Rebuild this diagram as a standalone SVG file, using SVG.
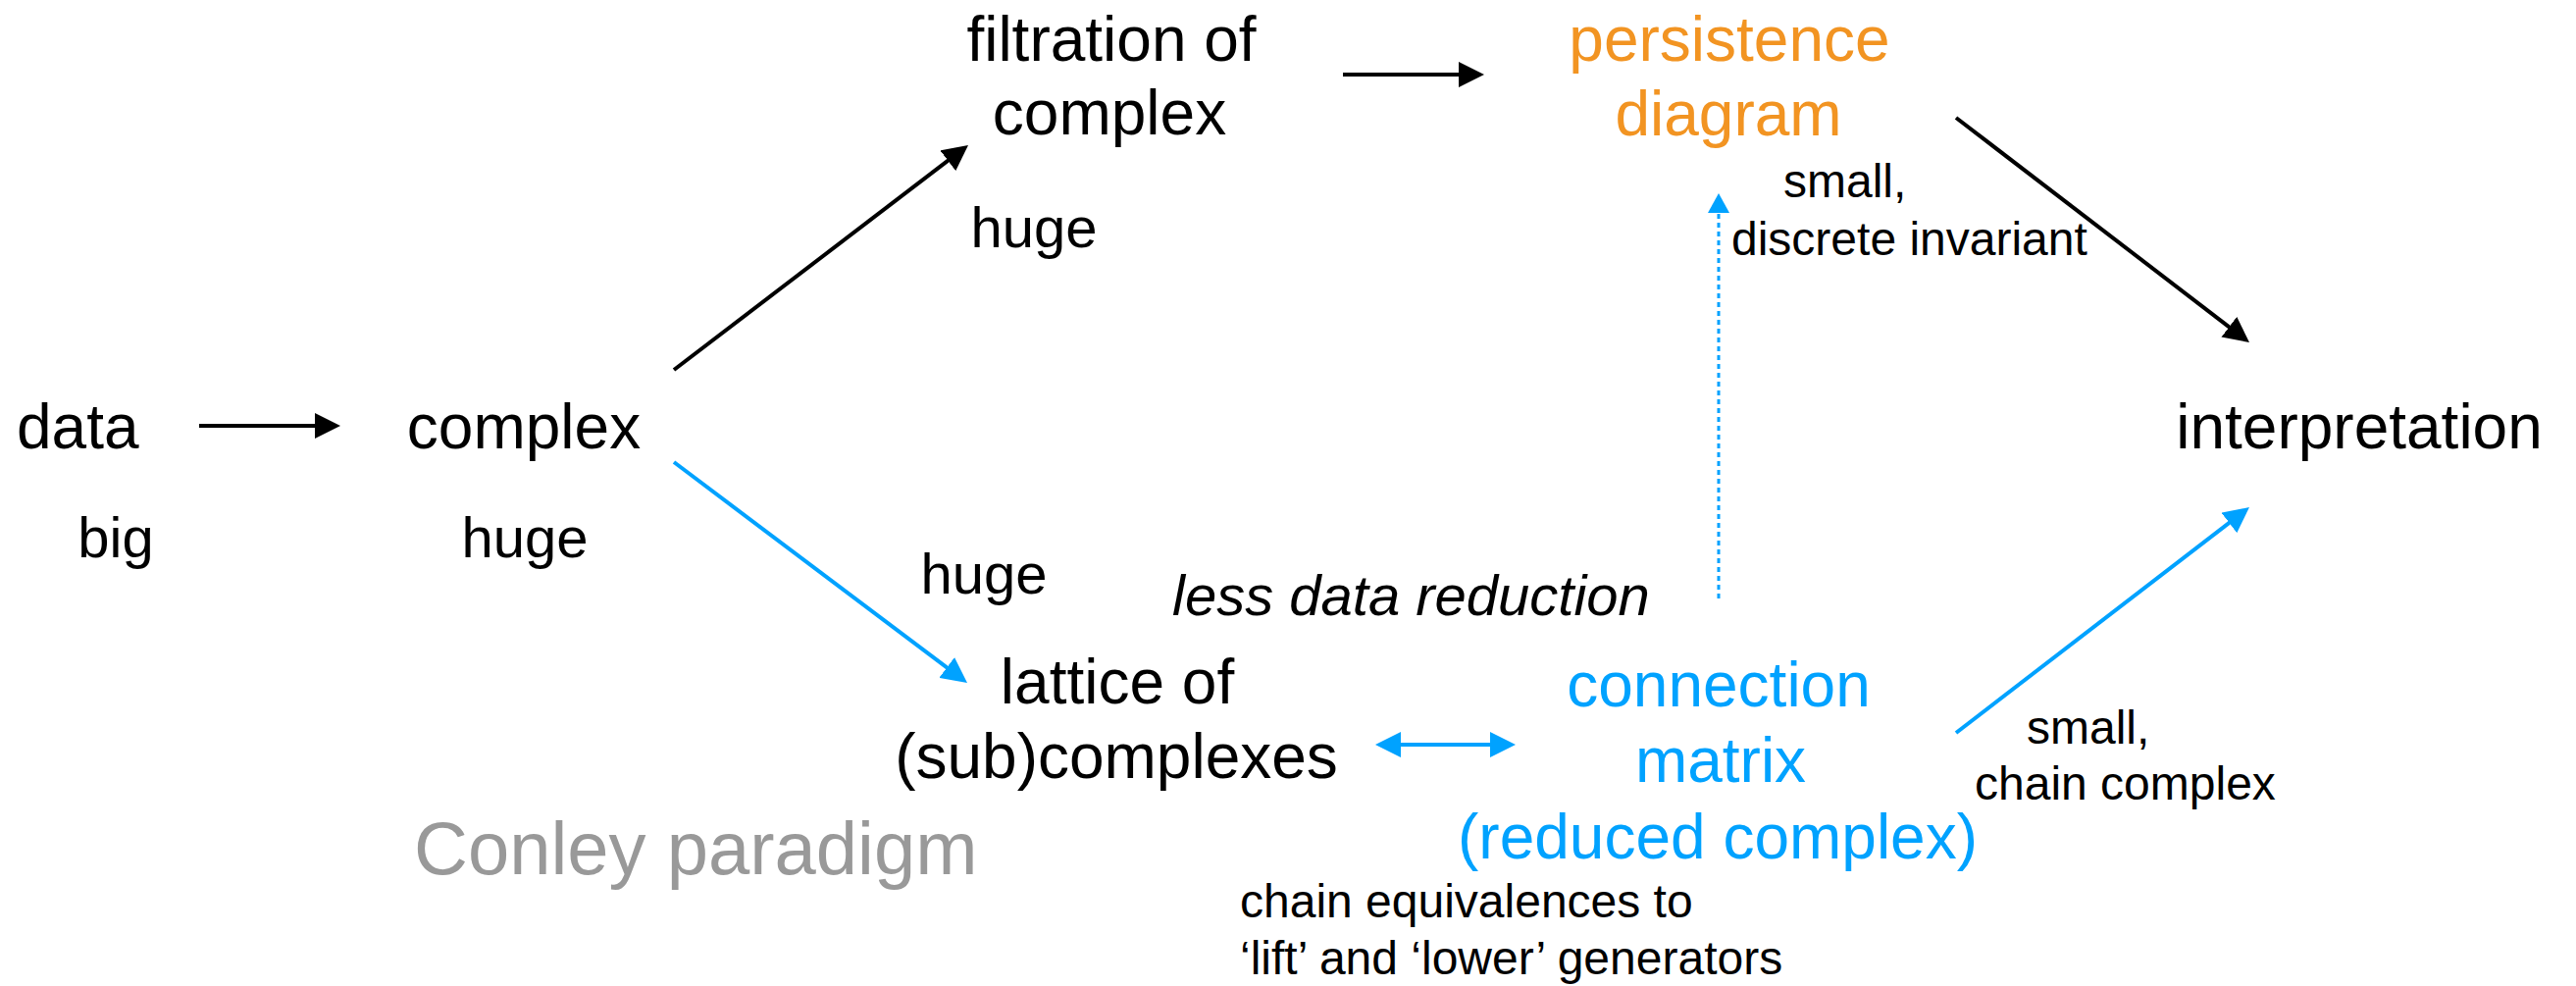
<svg xmlns="http://www.w3.org/2000/svg" width="2626" height="1005" viewBox="0 0 2626 1005">
<style>
  text { font-family: "Liberation Sans", Arial, sans-serif; fill: #000; }
  .node { font-size: 64px; }
  .mid { text-anchor: middle; }
  .lbl { font-size: 58px; }
  .sm { font-size: 48px; }
  .orange { fill: #F29422; }
  .blue { fill: #00A2FF; }
  .gray { fill: #999999; }
  .it { font-style: italic; }
  .ck { stroke: #000; stroke-width: 4; fill: none; }
  .cb { stroke: #00A2FF; stroke-width: 4; fill: none; }
  .cd { stroke: #00A2FF; stroke-width: 3; fill: none; stroke-dasharray: 5 4; }
</style>
<defs>
  <marker id="ah-k" viewBox="0 0 26 26" markerWidth="26" markerHeight="26" refX="10" refY="13" orient="auto" markerUnits="userSpaceOnUse">
    <path d="M0,0 L26,13 L0,26 z" fill="#000"/>
  </marker>
  <marker id="ah-b" viewBox="0 0 26 26" markerWidth="26" markerHeight="26" refX="10" refY="13" orient="auto-start-reverse" markerUnits="userSpaceOnUse">
    <path d="M0,0 L26,13 L0,26 z" fill="#00A2FF"/>
  </marker>
  <marker id="ah-bs" viewBox="0 0 20 22" markerWidth="20" markerHeight="22" refX="8" refY="11" orient="auto" markerUnits="userSpaceOnUse">
    <path d="M0,0 L20,11 L0,22 z" fill="#00A2FF"/>
  </marker>
</defs>

<g id="connectors">
  <line class="ck" x1="203" y1="434" x2="331" y2="434" marker-end="url(#ah-k)"/>
  <line class="ck" x1="687" y1="377" x2="974.3" y2="157.7" marker-end="url(#ah-k)"/>
  <line class="ck" x1="1369" y1="76" x2="1497" y2="76" marker-end="url(#ah-k)"/>
  <line class="ck" x1="1994" y1="120" x2="2280.3" y2="339.3" marker-end="url(#ah-k)"/>
  <line class="cb" x1="687" y1="471" x2="973.2" y2="686.4" marker-end="url(#ah-b)"/>
  <line class="cb" x1="1994" y1="747" x2="2280.3" y2="526.8" marker-end="url(#ah-b)"/>
  <line class="cb" x1="1418" y1="759" x2="1529" y2="759" marker-start="url(#ah-b)" marker-end="url(#ah-b)"/>
  <line class="cd" x1="1752" y1="610" x2="1752" y2="209" marker-end="url(#ah-bs)"/>
</g>

<g id="node-data">
  <text class="node" x="17" y="457">data</text>
  <text class="lbl mid" x="118" y="568">big</text>
</g>
<g id="node-complex">
  <text class="node mid" x="534" y="457">complex</text>
  <text class="lbl mid" x="535" y="568">huge</text>
</g>
<g id="node-filtration">
  <text class="node mid" x="1133" y="62">filtration of</text>
  <text class="node mid" x="1131" y="137">complex</text>
  <text class="lbl mid" x="1054" y="252">huge</text>
</g>
<g id="node-persistence">
  <text class="node mid orange" x="1763" y="62">persistence</text>
  <text class="node mid orange" x="1762" y="138">diagram</text>
  <text class="sm" x="1818" y="201">small,</text>
  <text class="sm" x="1765" y="260">discrete invariant</text>
</g>
<g id="node-interpretation">
  <text class="node mid" x="2405" y="457">interpretation</text>
</g>
<g id="node-lattice">
  <text class="lbl mid" x="1003" y="605">huge</text>
  <text class="node mid" x="1139" y="717">lattice of</text>
  <text class="node mid" x="1138" y="793">(sub)complexes</text>
</g>
<g id="node-connection">
  <text class="node mid blue" x="1752" y="720">connection</text>
  <text class="node mid blue" x="1754" y="797">matrix</text>
  <text class="node mid blue" x="1751" y="875">(reduced complex)</text>
  <text class="sm" x="2066" y="758">small,</text>
  <text class="sm" x="2013" y="815">chain complex</text>
</g>
<g id="labels">
  <text class="lbl it" x="1195" y="627">less data reduction</text>
  <text class="sm" x="1264" y="935">chain equivalences to</text>
  <text class="sm" x="1264" y="993">‘lift’ and ‘lower’ generators</text>
  <text class="gray" x="422" y="891" font-size="76">Conley paradigm</text>
</g>
</svg>
